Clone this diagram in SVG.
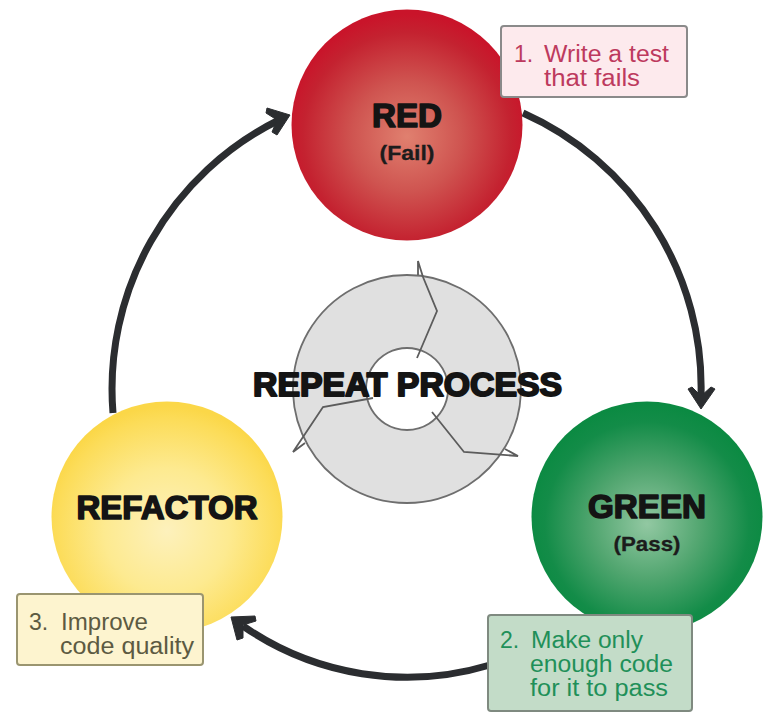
<svg xmlns="http://www.w3.org/2000/svg" width="774" height="728" viewBox="0 0 774 728">
<style>
.t{font-family:"Liberation Sans",Arial,sans-serif;font-weight:bold;fill:#141414;stroke:#141414;text-anchor:middle;stroke-linejoin:round}
.s{font-family:"Liberation Sans",Arial,sans-serif;font-weight:bold;font-size:21px;fill:#1c1c1c;text-anchor:middle;stroke:#1c1c1c;stroke-width:.3}
.l{font-family:"Liberation Sans",Arial,sans-serif;font-size:23px}
.box{stroke-width:2}
.arc{fill:none;stroke:#2b2d30;stroke-width:7}
.head{fill:#2b2d30;stroke:#2b2d30;stroke-width:1;stroke-linejoin:round}
.g{fill:#e0e0e0;stroke:#6e6e6e;stroke-width:1.8}
.j{fill:none;stroke:#5c5c5c;stroke-width:1.8;stroke-linejoin:miter}
</style>
<defs>
<radialGradient id="gr" cx="0.5" cy="0.55" r="0.53"><stop offset="0" stop-color="#e0806f"/><stop offset="0.45" stop-color="#cf5450"/><stop offset="0.85" stop-color="#c42230"/><stop offset="1" stop-color="#c9142a"/></radialGradient>
<radialGradient id="gg" cx="0.5" cy="0.53" r="0.52"><stop offset="0" stop-color="#92c8a2"/><stop offset="0.45" stop-color="#52a670"/><stop offset="0.85" stop-color="#138c48"/><stop offset="1" stop-color="#0b8a42"/></radialGradient>
<radialGradient id="gy" cx="0.5" cy="0.56" r="0.54"><stop offset="0" stop-color="#fdf1bc"/><stop offset="0.5" stop-color="#fdea90"/><stop offset="0.9" stop-color="#fcdc58"/><stop offset="1" stop-color="#fbd748"/></radialGradient>
</defs>
<rect width="774" height="728" fill="#ffffff"/>
<g id="connectors">
<path class="arc" d="M523 113 A300 300 0 0 1 701 396"/>
<polygon class="head" points="701,409 688,389 692,387 701,396 711,387 715,389"/>
<path class="arc" d="M490 665 A288 288 0 0 1 243 626"/>
<polygon class="head" points="231,617 255,616 256,621 243,625 243,638 237,640"/>
<path class="arc" d="M113 413 A300 300 0 0 1 279 120"/>
<polygon class="head" points="290,115 267,108 266,113 277,120 272,132 277,135"/>
</g>
<g id="repeat">
<path class="g" fill-rule="evenodd" d="M407 275 A114 114 0 1 1 406.900 275 Z M407 348 A41 41 0 1 0 407.100 348 Z"/>
<path class="j" d="M418 275 L418 261 L423 277 L437 311 L417 358"/>
<path class="j" d="M432 412 L464 452 L518 456 L505 449"/>
<path class="j" d="M373 398 L323 407 L293 452 L305 443"/>
<text class="t" x="407.500" y="396" font-size="33" stroke-width="2" textLength="309" lengthAdjust="spacingAndGlyphs">REPEAT PROCESS</text>
</g>
<g id="red">
<circle cx="407" cy="125" r="115.500" fill="url(#gr)"/>
<text class="t" x="407" y="127" font-size="33" stroke-width="1.6" textLength="70" lengthAdjust="spacingAndGlyphs">RED</text>
<text class="s" x="407" y="160" textLength="55" lengthAdjust="spacingAndGlyphs">(Fail)</text>
</g>
<g id="green">
<circle cx="647" cy="517" r="115.500" fill="url(#gg)"/>
<text class="t" x="647" y="518" font-size="33" stroke-width="1.6" textLength="118" lengthAdjust="spacingAndGlyphs">GREEN</text>
<text class="s" x="647" y="551" textLength="67" lengthAdjust="spacingAndGlyphs">(Pass)</text>
</g>
<g id="refactor">
<circle cx="167" cy="517" r="115.500" fill="url(#gy)"/>
<text class="t" x="167" y="519" font-size="33" stroke-width="1.6" textLength="181" lengthAdjust="spacingAndGlyphs">REFACTOR</text>
</g>
<g id="note1">
<rect class="box" x="501" y="26" width="186" height="71" rx="3" fill="#fdeaed" stroke="#8a8a8a"/>
<text class="l" fill="#bd3a5e" x="514" y="62">1.</text>
<text class="l" fill="#bd3a5e" x="544" y="62" textLength="125" lengthAdjust="spacingAndGlyphs">Write a test</text>
<text class="l" fill="#bd3a5e" x="544" y="86" textLength="96" lengthAdjust="spacingAndGlyphs">that fails</text>
</g>
<g id="note2">
<rect class="box" x="488" y="615" width="204" height="96" rx="3" fill="#c3dcc8" stroke="#7f8a80"/>
<text class="l" fill="#1f9059" x="500" y="648">2.</text>
<text class="l" fill="#1f9059" x="531" y="648" textLength="112" lengthAdjust="spacingAndGlyphs">Make only</text>
<text class="l" fill="#1f9059" x="530" y="672" textLength="143" lengthAdjust="spacingAndGlyphs">enough code</text>
<text class="l" fill="#1f9059" x="530" y="696" textLength="138" lengthAdjust="spacingAndGlyphs">for it to pass</text>
</g>
<g id="note3">
<rect class="box" x="17" y="594" width="186" height="71" rx="3" fill="#fdf4cf" stroke="#9a9570"/>
<text class="l" fill="#5c5a42" x="29" y="630">3.</text>
<text class="l" fill="#5c5a42" x="61" y="630" textLength="87" lengthAdjust="spacingAndGlyphs">Improve</text>
<text class="l" fill="#5c5a42" x="60" y="654" textLength="134" lengthAdjust="spacingAndGlyphs">code quality</text>
</g>
</svg>
